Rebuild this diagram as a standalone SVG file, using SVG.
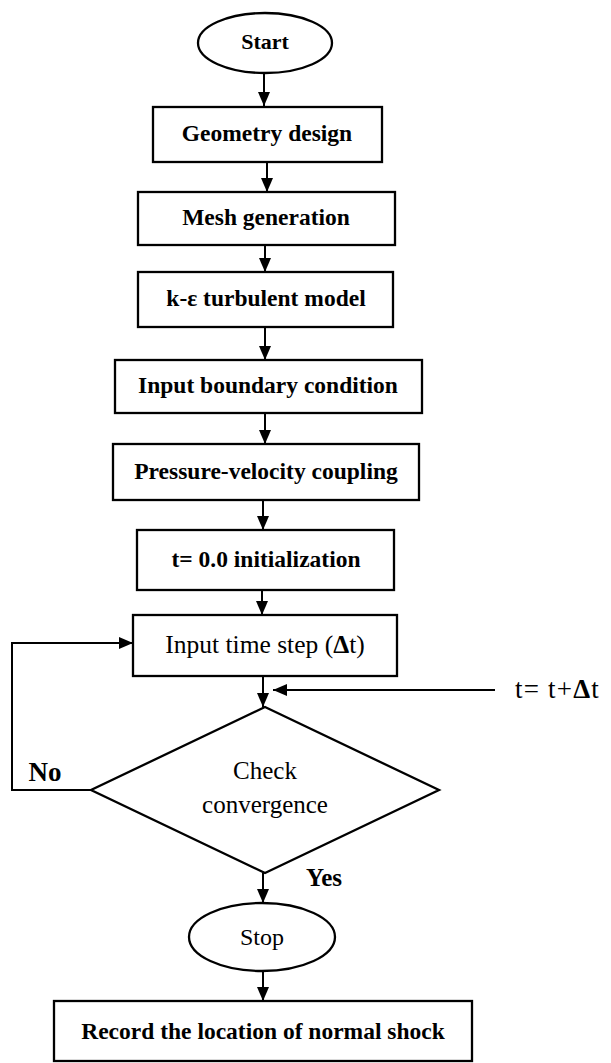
<svg xmlns="http://www.w3.org/2000/svg" width="611" height="1063" viewBox="0 0 611 1063">
<style>
.s{fill:#fff;stroke:#000;stroke-width:2.3}
.t{font-family:"Liberation Serif","Times New Roman",serif;font-size:23.5px;font-weight:bold;text-anchor:middle;fill:#000}
.r{font-weight:normal}
.c{fill:none;stroke:#000;stroke-width:2}
</style>
<defs>
<marker id="ah" markerUnits="userSpaceOnUse" markerWidth="14" markerHeight="12" refX="14" refY="6" orient="auto">
<path d="M0,0 L14,6 L0,12 z" fill="#000"/>
</marker>
</defs>
<rect width="611" height="1063" fill="#fff"/>
<g id="connectors">
<path class="c" d="M264,73 V106" marker-end="url(#ah)"/>
<path class="c" d="M267,162 V192" marker-end="url(#ah)"/>
<path class="c" d="M265,245 V272" marker-end="url(#ah)"/>
<path class="c" d="M265,327 V360" marker-end="url(#ah)"/>
<path class="c" d="M265,413 V444" marker-end="url(#ah)"/>
<path class="c" d="M263,500 V530" marker-end="url(#ah)"/>
<path class="c" d="M262,590 V615" marker-end="url(#ah)"/>
<path class="c" d="M263,676 V707" marker-end="url(#ah)"/>
<path class="c" d="M495,690 H273" marker-end="url(#ah)"/>
<path class="c" d="M91,790 H12 V643 H133" marker-end="url(#ah)"/>
<path class="c" d="M263,873 V903" marker-end="url(#ah)"/>
<path class="c" d="M263,971 V1001" marker-end="url(#ah)"/>
</g>
<g id="start"><ellipse class="s" cx="265" cy="43" rx="67" ry="30"/><text class="t" x="265" y="49" style="font-size:22px">Start</text></g>
<g id="geometry"><rect class="s" x="153" y="107" width="229" height="55"/><text class="t" x="267" y="141">Geometry design</text></g>
<g id="mesh"><rect class="s" x="138" y="192" width="257" height="53"/><text class="t" x="266" y="225">Mesh generation</text></g>
<g id="turb"><rect class="s" x="138" y="272" width="255" height="55"/><text class="t" x="266" y="306">k-ε turbulent model</text></g>
<g id="boundary"><rect class="s" x="115" y="360" width="307" height="53"/><text class="t" x="268" y="393">Input boundary condition</text></g>
<g id="pressure"><rect class="s" x="113" y="444" width="306" height="56"/><text class="t" x="266" y="479">Pressure-velocity coupling</text></g>
<g id="init"><rect class="s" x="137" y="530" width="257" height="60"/><text class="t" x="266" y="567">t= 0.0 initialization</text></g>
<g id="timestep"><rect class="s" x="133" y="615" width="264" height="61"/><text class="t r" x="265" y="653" style="font-size:25.5px">Input time step (<tspan font-weight="bold">Δ</tspan>t)</text></g>
<g id="increment"><text class="t r" x="515" y="698" style="font-size:27px;text-anchor:start;letter-spacing:1.2px">t= t+<tspan font-weight="bold">Δ</tspan>t</text></g>
<g id="check"><polygon class="s" points="265,707 439,790 265,873 91,790"/><text class="t r" x="265" y="779" style="font-size:25px">Check</text><text class="t r" x="265" y="813" style="font-size:25px">convergence</text></g>
<g id="labels"><text class="t" x="45" y="781" style="font-size:27px">No</text><text class="t" x="324" y="886" style="font-size:25px">Yes</text></g>
<g id="stop"><ellipse class="s" cx="262" cy="937" rx="73" ry="34"/><text class="t r" x="262" y="945" style="font-size:24px">Stop</text></g>
<g id="record"><rect class="s" x="54" y="1001" width="418" height="60"/><text class="t" x="263" y="1039">Record the location of normal shock</text></g>
</svg>
